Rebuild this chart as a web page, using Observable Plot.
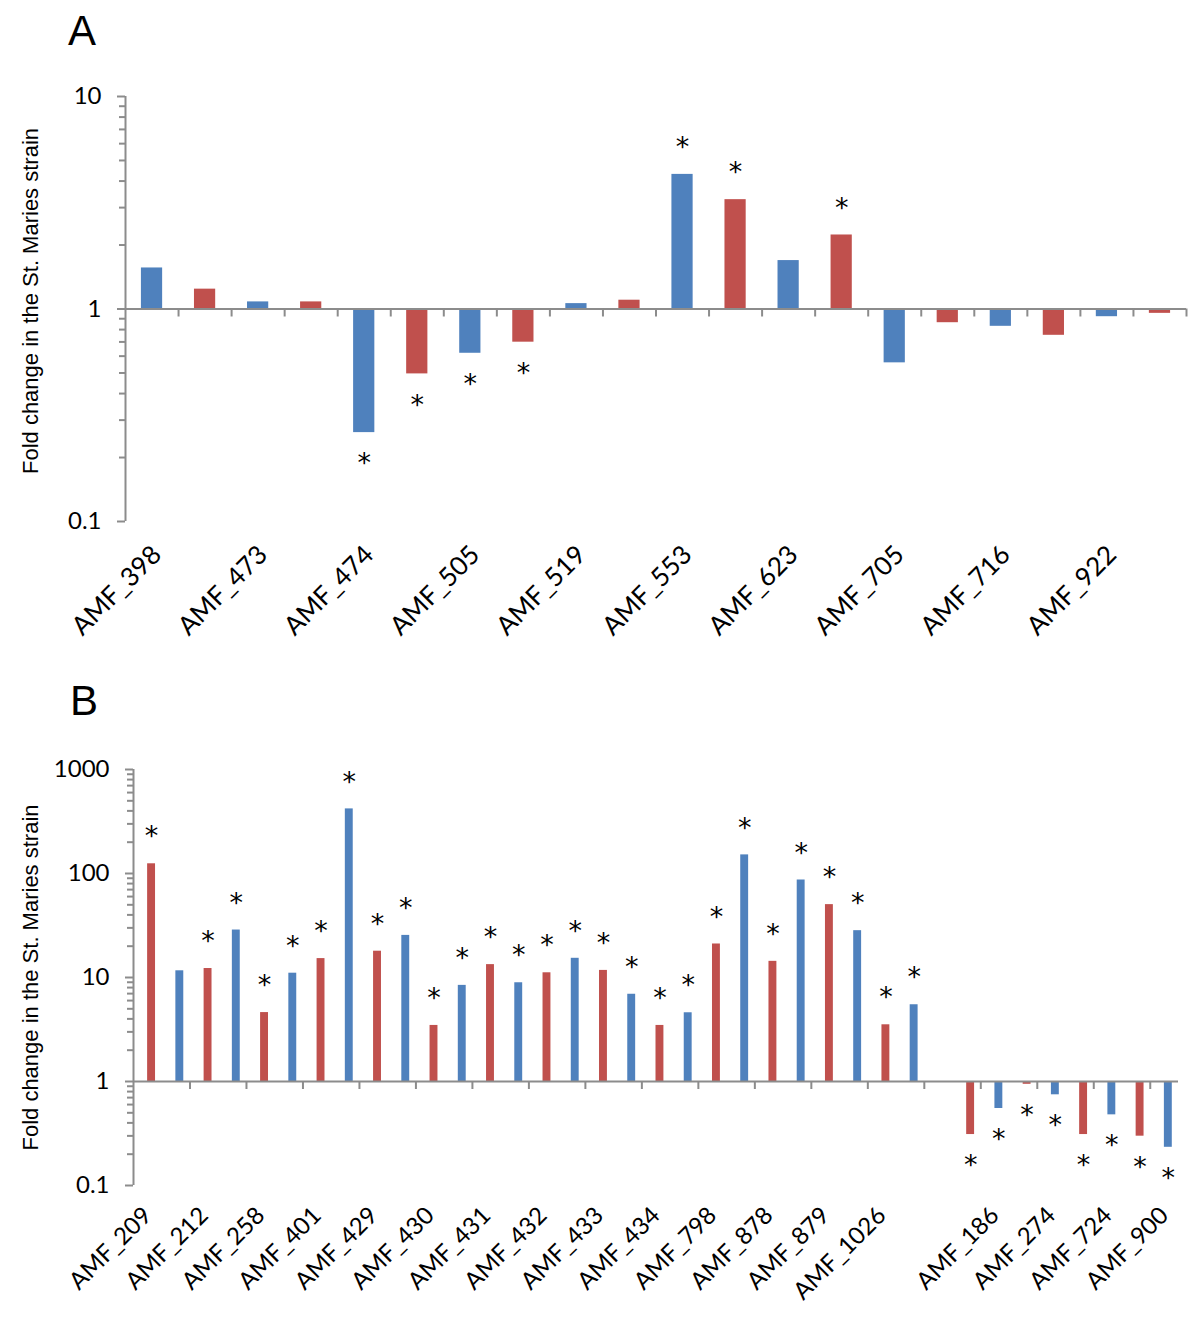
<!DOCTYPE html>
<html>
<head>
<meta charset="utf-8">
<script src="https://cdn.jsdelivr.net/npm/d3@7"></script>
<script src="https://cdn.jsdelivr.net/npm/@observablehq/plot@0.6"></script>
<style>
  body { margin: 0; background: #fff; }
  #wrap { position: relative; width: 1200px; height: 1322px; overflow: hidden; }
  #panelA { position: absolute; left: 0; top: 0; }
  #panelB { position: absolute; left: 0; top: 660px; }
  .letter { position: absolute; font-family: "Liberation Sans", Arial, sans-serif; font-size: 42px; line-height: 1; color: #000; }
</style>
</head>
<body>
<div id="wrap">
  <div id="panelA"></div>
  <div id="panelB"></div>
  <div class="letter" style="left:68px; top:10px;">A</div>
  <div class="letter" style="left:70px; top:680px;">B</div>
</div>
<script>
// ---------------- Data: panel A ----------------
const genesA = ["AMF_398", "AMF_473", "AMF_474", "AMF_505", "AMF_519", "AMF_553", "AMF_623", "AMF_705", "AMF_716", "AMF_922"];
const blueA = [1.56, 1.08, 0.262, 0.619, 1.06, 4.30, 1.69, 0.558, 0.829, 0.92];
const redA = [1.24, 1.08, 0.495, 0.698, 1.10, 3.27, 2.23, 0.862, 0.752, 0.954];
const sigBlueA = [0, 0, 1, 1, 0, 1, 0, 0, 0, 0];
const sigRedA = [0, 0, 1, 1, 0, 1, 1, 0, 0, 0];
const yTicksA = [0.1, 1, 10];

// ---------------- Data: panel B ----------------
const genesUpB = ["AMF_209", "AMF_212", "AMF_258", "AMF_401", "AMF_429", "AMF_430", "AMF_431", "AMF_432", "AMF_433", "AMF_434", "AMF_798", "AMF_878", "AMF_879", "AMF_1026"];
const redUpB = [124, 12.2, 4.6, 15.2, 17.9, 3.46, 13.3, 11.1, 11.7, 3.46, 21.0, 14.3, 50.2, 3.51];
const blueUpB = [11.6, 28.6, 11.0, 418, 25.4, 8.4, 8.9, 15.3, 6.9, 4.58, 151, 86.6, 28.2, 5.47];
const sigRedUpB = [1, 1, 1, 1, 1, 1, 1, 1, 1, 1, 1, 1, 1, 1];
const sigBlueUpB = [0, 1, 1, 1, 1, 1, 1, 1, 1, 1, 1, 1, 1, 1];
const genesDownB = ["AMF_186", "AMF_274", "AMF_724", "AMF_900"];
const redDownB = [0.309, 0.94, 0.309, 0.298];
const blueDownB = [0.55, 0.745, 0.478, 0.233];
const sigRedDownB = [1, 1, 1, 1];
const sigBlueDownB = [1, 1, 1, 1];
const yTicksB = [0.1, 1, 10, 100, 1000];

const yTitle = "Fold change in the St. Maries strain";

// ---------------- Styles ----------------
const colors = {blue: "#4F81BD", red: "#C0504D"};
const axisGray = "#8c8c8c";
const labelFont = "Lato, 'Open Sans', sans-serif";

// Build slot lists (one slot per bar position)
const slotsA = [];
genesA.forEach((g, k) => {
  slotsA.push({gene: g, series: "blue", value: blueA[k], sig: sigBlueA[k]});
  slotsA.push({gene: g, series: "red", value: redA[k], sig: sigRedA[k]});
});
slotsA.forEach((d, i) => d.i = i);

const slotsB = [];
genesUpB.forEach((g, k) => {
  slotsB.push({gene: g, series: "red", value: redUpB[k], sig: sigRedUpB[k]});
  slotsB.push({gene: g, series: "blue", value: blueUpB[k], sig: sigBlueUpB[k]});
});
slotsB.push({gene: "", series: null, value: null, sig: 0});
genesDownB.forEach((g, k) => {
  slotsB.push({gene: g, series: "red", value: redDownB[k], sig: sigRedDownB[k]});
  slotsB.push({gene: g, series: "blue", value: blueDownB[k], sig: sigBlueDownB[k]});
});
slotsB.forEach((d, i) => d.i = i);

function minorTicks(domain) {
  const out = [];
  for (let e = Math.round(Math.log10(domain[0])); e < Math.round(Math.log10(domain[1])); e++) {
    for (let m = 2; m <= 9; m++) out.push(m * Math.pow(10, e));
  }
  return out;
}

function panel(cfg) {
  const {slots, yTicks, height, mt, mb, ml, mr, barStart, barEnd, baseTicks,
         labelDx, labelPad, labelSize, titleDx, titleDy} = cfg;
  const n = slots.length;
  const bars = slots.filter(d => d.value != null);
  const center = (barStart + barEnd) / 2;
  const labelSlots = slots.filter(d => d.i % 2 === 0);
  const labelMap = new Map(labelSlots.map(d => [d.i + 0.5, d.gene]));
  return Plot.plot({
    width: 1200,
    height,
    marginTop: mt,
    marginBottom: mb,
    marginLeft: ml,
    marginRight: mr,
    style: {fontFamily: labelFont, background: "white", color: "black", overflow: "visible"},
    x: {type: "linear", domain: [0, n]},
    y: {type: "log", domain: [yTicks[0], yTicks[yTicks.length - 1]]},
    marks: [
      Plot.rect(bars, {
        x1: d => d.i + barStart, x2: d => d.i + barEnd,
        y1: 1, y2: "value",
        fill: d => colors[d.series]
      }),
      Plot.ruleY([1], {stroke: axisGray, strokeWidth: 2}),
      Plot.ruleX(baseTicks, {x: d => d, y1: 1, y2: 1, insetBottom: -8, stroke: axisGray, strokeWidth: 2}),
      Plot.ruleX([0], {stroke: axisGray, strokeWidth: 2}),
      Plot.axisY({ticks: minorTicks([yTicks[0], yTicks[yTicks.length - 1]]), tickSize: 6, tickFormat: () => "", stroke: axisGray, strokeWidth: 2, label: null}),
      Plot.axisY({ticks: yTicks, tickSize: 8, tickPadding: 16, tickFormat: d => String(d), stroke: axisGray, strokeWidth: 2, fill: "black", fontSize: 24, fontFamily: labelFont, label: null}),
      Plot.axisX({anchor: "bottom", ticks: [...labelMap.keys()], tickFormat: v => labelMap.get(v), tickSize: 0, tickRotate: -45, tickPadding: labelPad, dx: labelDx, fontSize: labelSize, fontFamily: labelFont, fill: "black", label: null}),
      Plot.text(bars.filter(d => d.sig && d.value > 1), {x: d => d.i + center, y: "value", text: () => "*", dy: -27, fontSize: 27, fontFamily: "DejaVu Sans", fill: "black"}),
      Plot.text(bars.filter(d => d.sig && d.value < 1), {x: d => d.i + center, y: "value", text: () => "*", dy: 31, fontSize: 27, fontFamily: "DejaVu Sans", fill: "black"}),
      Plot.text([yTitle], {text: d => d, frameAnchor: "left", textAnchor: "middle", rotate: -90, dx: titleDx, dy: titleDy, fontSize: 22, fontFamily: "'Liberation Sans', Arial, sans-serif", fill: "black"})
    ]
  });
}

const boundsA = slotsA.map(d => d.i + 1);
const boundsB = slotsB.filter(d => d.i % 2 === 1 && d.i < slotsB.length - 1).map(d => d.i + 1);

document.getElementById("panelA").append(panel({
  slots: slotsA, yTicks: yTicksA, height: 660, mt: 96, mb: 139, ml: 125, mr: 14,
  barStart: 0.3, barEnd: 0.7, baseTicks: boundsA,
  labelDx: 5, labelPad: 29, labelSize: 26, titleDx: -95, titleDy: -8
}));

document.getElementById("panelB").append(panel({
  slots: slotsB, yTicks: yTicksB, height: 662, mt: 109, mb: 137, ml: 133, mr: 22,
  barStart: 0.5, barEnd: 0.78, baseTicks: boundsB,
  labelDx: 0, labelPad: 26, labelSize: 24, titleDx: -103, titleDy: 0
}));
</script>
</body>
</html>
